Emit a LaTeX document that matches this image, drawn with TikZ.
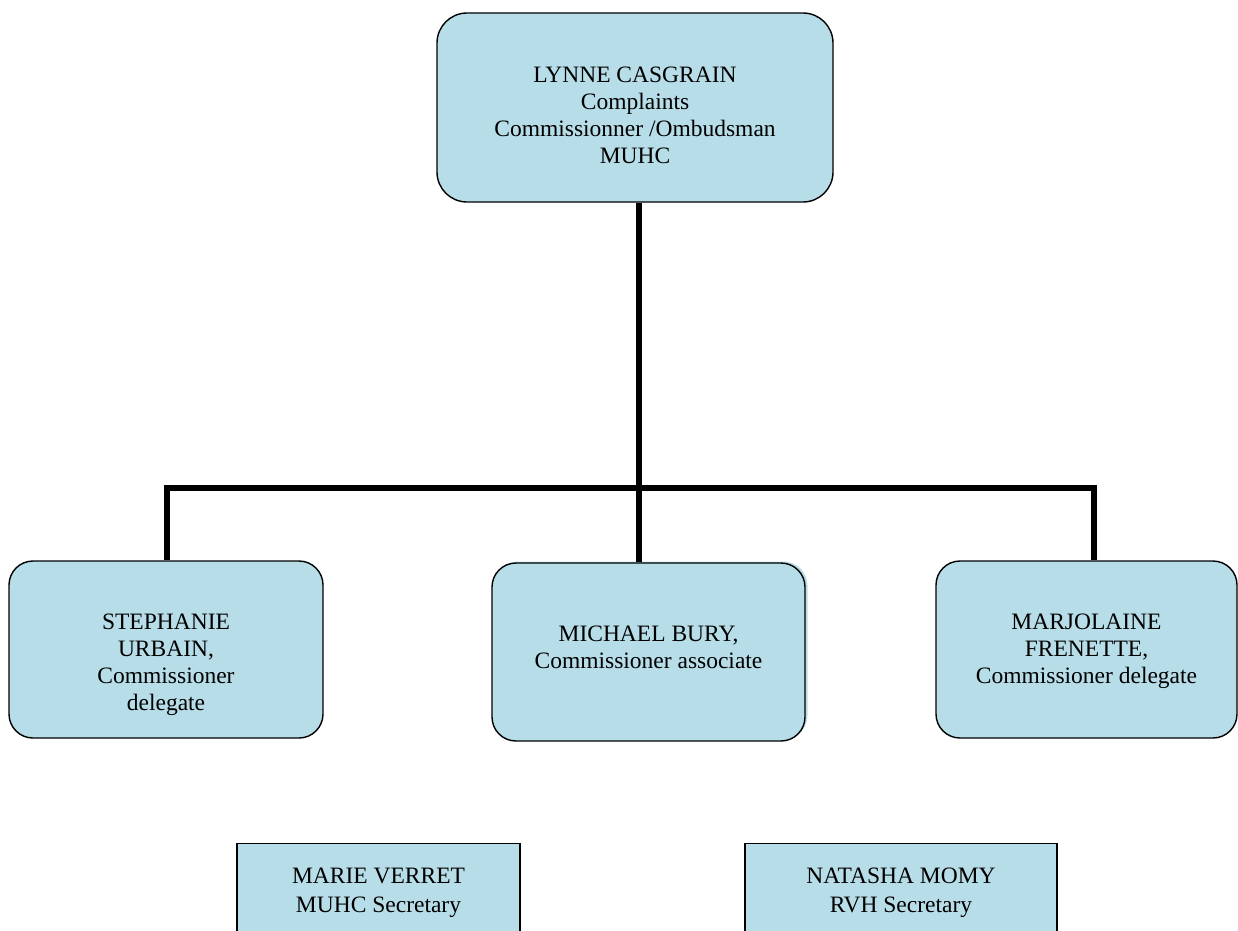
\documentclass[tikz,border=0pt]{standalone}
\usepackage{fontspec}
\setmainfont{Liberation Serif}
\usepackage{xcolor}
\definecolor{boxblue}{HTML}{B7DDE8}
\usepackage{tikz}
\usetikzlibrary{shadows}
\tikzset{
    person/.style = {rectangle, rounded corners=24pt, draw=black, fill=boxblue,
                     line width=1.4pt, align=center, inner sep=0pt, text depth=0pt,
                     font=\fontsize{23.5}{27}\selectfont},
    secretary/.style = {rectangle, draw=black, fill=boxblue, line width=1.4pt,
                        align=center, inner sep=0pt, anchor=north,
                        font=\fontsize{23.5}{29.5}\selectfont},
    link/.style = {line width=6pt, color=black},
}

\begin{document}
\begin{tikzpicture}[x=1pt, y=-1pt]
        \path[use as bounding box, clip] (0,0) rectangle (1238,930);
        % commissioner
        \node[person, rounded corners=30pt, minimum width=396pt, minimum height=189pt, text height=111pt] (lynne) at (635,107.5)
            {LYNNE CASGRAIN\\Complaints\\Commissionner /Ombudsman\\MUHC};
        % delegates and associate
        \node[person, minimum width=314pt, minimum height=177pt, text height=121pt] (stephanie) at (166,649.5)
            {STEPHANIE\\URBAIN,\\Commissioner\\delegate};
        \node[person, minimum width=313pt, minimum height=178pt, text height=32pt,
              drop shadow={shadow xshift=2.5pt, shadow yshift=1.5pt, fill=boxblue, opacity=1}] (michael) at (648.5,652)
            {MICHAEL BURY,\\Commissioner associate};
        \node[person, minimum width=301pt, minimum height=177pt, text height=67pt] (marjolaine) at (1086.5,649.5)
            {MARJOLAINE\\FRENETTE,\\Commissioner delegate};
        % secretaries
        \node[secretary, minimum width=283pt, text height=69pt, text depth=80pt] (marie) at (378.5,843)
            {MARIE VERRET\\MUHC Secretary};
        \node[secretary, minimum width=312pt, text height=69pt, text depth=80pt] (natasha) at (901,843)
            {NATASHA MOMY\\RVH Secretary};
        % connectors
        \coordinate (hub) at (639,488);
        \coordinate (barL) at (167,488);
        \coordinate (barR) at (1094,488);
        \draw[link] (lynne.south -| hub) -- (hub);
        \draw[link] (stephanie.north -| barL) -- (barL) -- (barR) -- (marjolaine.north -| barR);
        \draw[link] (hub) -- (michael.north -| hub);
      \end{tikzpicture}
\end{document}
